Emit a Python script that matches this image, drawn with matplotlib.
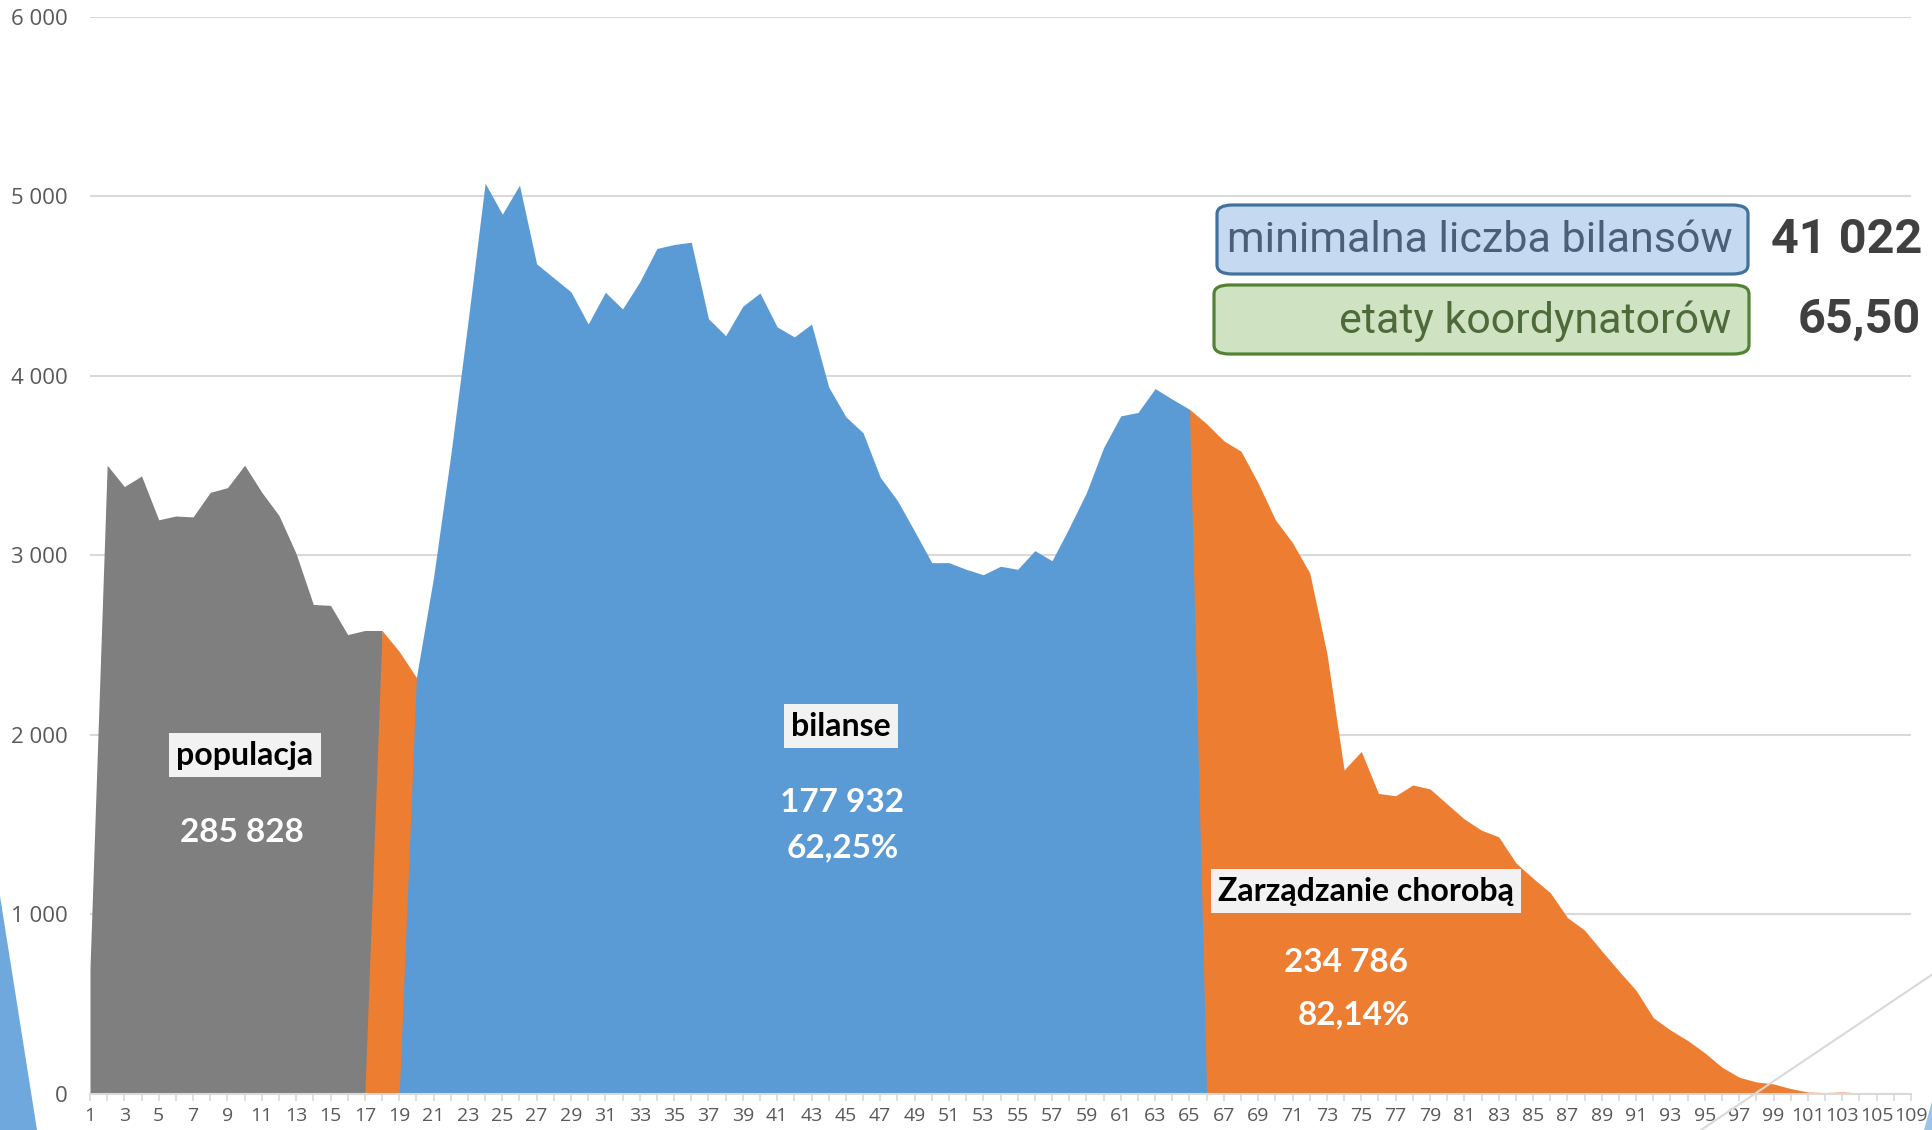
import numpy as np
import matplotlib
matplotlib.use("Agg")
import matplotlib.pyplot as plt
from matplotlib import font_manager
from matplotlib.patches import FancyBboxPatch, Polygon
from matplotlib.lines import Line2D

# category labels (age); the last two columns are labelled oddly in the source
ages = list(range(1, 106)) + [107, 109]

# values
gray_vals = [700, 3502, 3383, 3442, 3198, 3219, 3214, 3351, 3377, 3502, 3351,
             3222, 3009, 2726, 2721, 2558, 2581, 2581]                      # ages 1-18
orange_young = [2581, 2464, 2319]                                          # ages 18-20
blue_vals = [2319, 2879, 3560, 4300, 5074, 4901, 5063, 4624, 4546, 4468,
             4289, 4466, 4373, 4524, 4710, 4732, 4745, 4319, 4224, 4388,
             4462, 4273, 4217, 4289, 3938, 3772, 3683, 3435, 3305, 3134,
             2959, 2959, 2922, 2892, 2939, 2922, 3026, 2970, 3154, 3349,
             3600, 3777, 3796, 3929, 3870, 3814]                            # ages 20-65
orange_old = [3814, 3733, 3638, 3580, 3402, 3198, 3070, 2902, 2453, 1804,
              1907, 1673, 1660, 1720, 1698, 1614, 1530, 1468, 1431, 1286,
              1200, 1120, 981, 911, 795, 683, 575, 423, 354, 296,
              227, 147, 91, 65, 54, 28, 9, 6, 9, 4, 2, 1, 0]                # ages 65-end

n = len(ages)
x = np.arange(n)
gray = np.zeros(n); gray[0:18] = gray_vals
orange = np.zeros(n); orange[17:20] = orange_young; orange[64:] = orange_old
blue = np.zeros(n); blue[19:65] = blue_vals

W, H = 1933, 1130


def pick(*names):
    have = {f.name for f in font_manager.fontManager.ttflist}
    for nm in names:
        if nm in have:
            return nm
    return "DejaVu Sans"


f_tick = pick("Open Sans", "Noto Sans")
f_lbl = pick("Lato", "Open Sans")
f_box = pick("Liberation Sans Narrow", "Roboto", "Noto Sans")

fig = plt.figure(figsize=(W / 100, H / 100), dpi=100)
ax = fig.add_axes([90 / W, 36.4 / H, (1911 - 90) / W, (1093.6 - 17) / H])

ax.fill_between(x, 0, gray, color="#7f7f7f", lw=0)
ax.fill_between(x, 0, orange, color="#ed7d31", lw=0)
ax.fill_between(x, 0, blue, color="#5b9bd5", lw=0)

ax.set_xlim(0, n - 1)
ax.set_ylim(0, 6000)
ax.set_yticks(range(0, 6001, 1000))
ax.set_yticklabels([f"{v:,}".replace(",", " ") for v in range(0, 6001, 1000)])
ax.grid(axis="y", color="#d9d9d9", lw=1.5)
ax.set_axisbelow(True)
ax.set_xticks(x)
ax.set_xticklabels([str(a) if i % 2 == 0 else "" for i, a in enumerate(ages)])
for s in ["top", "right", "left"]:
    ax.spines[s].set_visible(False)
ax.spines["bottom"].set_color("#d9d9d9")
ax.spines["bottom"].set_linewidth(1.5)
ax.tick_params(axis="y", length=0, pad=16, labelsize=16, labelcolor="#595959")
ax.tick_params(axis="x", length=5, width=1.2, color="#d9d9d9", pad=5,
               labelsize=14, labelcolor="#595959")
for t in ax.get_xticklabels() + ax.get_yticklabels():
    t.set_fontfamily(f_tick)


def fx(px):
    return px / W


def fy(py):
    return 1 - py / H


# section labels
lbl_box = dict(facecolor="#f2f2f2", edgecolor="none", pad=5)
for txt, px, py in [("populacja", 245, 755), ("bilanse", 841, 726),
                    ("Zarządzanie chorobą", 1366, 891)]:
    fig.text(fx(px), fy(py), txt, ha="center", va="center", fontsize=23,
             fontweight="bold", family=f_lbl, color="black", bbox=lbl_box)

for txt, px, py in [("285 828", 242, 832), ("177 932", 842, 802),
                    ("62,25%", 843, 848), ("234 786", 1346, 962),
                    ("82,14%", 1354, 1015)]:
    fig.text(fx(px), fy(py), txt, ha="center", va="center", fontsize=24,
             fontweight="bold", family=f_lbl, color="white")

# summary boxes
for (x0, y0, x1, y1), fc, ec in [((1217, 205, 1748, 274), "#c5daf0", "#41719c"),
                                 ((1214, 285, 1749, 354), "#cfe3c3", "#548235")]:
    fig.patches.append(FancyBboxPatch((fx(x0), fy(y1)), fx(x1 - x0), (y1 - y0) / H,
                                      boxstyle="round,pad=0,rounding_size=0.008",
                                      transform=fig.transFigure, facecolor=fc,
                                      edgecolor=ec, lw=2.3))
fig.text(fx(1480), fy(241), "minimalna liczba bilansów", ha="center", va="center",
         fontsize=31, family=f_box, color="#4a6079")
fig.text(fx(1731), fy(321), "etaty koordynatorów", ha="right", va="center",
         fontsize=31, family=f_box, color="#4e6a3a")
fig.text(fx(1847), fy(240), "41 022", ha="center", va="center", fontsize=35,
         fontweight="bold", family=f_box, color="#404040")
fig.text(fx(1859), fy(320), "65,50", ha="center", va="center", fontsize=35,
         fontweight="bold", family=f_box, color="#404040")

# fragments of neighbouring slide shapes visible at the edges
fig.patches.append(Polygon([(0, fy(896)), (fx(37), 0), (0, 0)], closed=True,
                           transform=fig.transFigure, facecolor="#6fa8dc", edgecolor="none"))
fig.patches.append(Polygon([(1, fy(1098)), (fx(1924), 0), (1, 0)], closed=True,
                           transform=fig.transFigure, facecolor="#9dc3e6", edgecolor="none"))
fig.lines.append(Line2D([fx(1701), 1], [0, fy(974)], transform=fig.transFigure,
                        color="#d9d9d9", lw=1.5))

fig.savefig("out.png", dpi=100, facecolor="white")
